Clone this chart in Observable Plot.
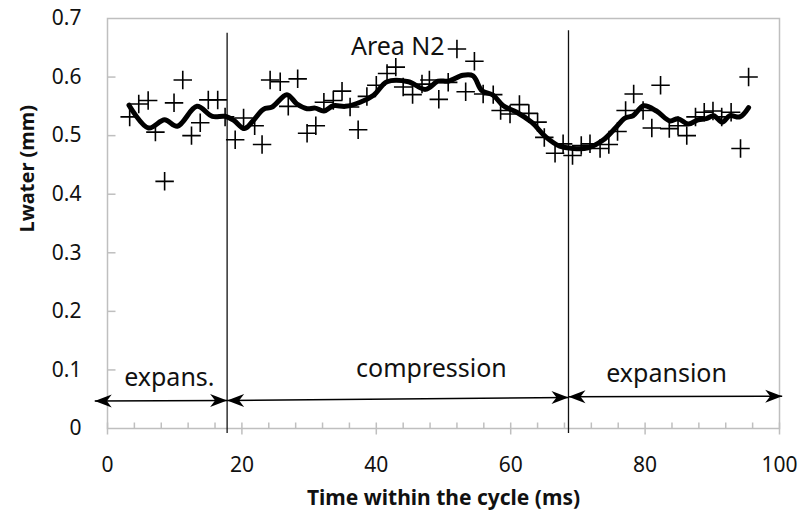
<!DOCTYPE html>
<html><head><meta charset="utf-8">
<script src="https://cdn.jsdelivr.net/npm/d3@7"></script>
<script src="https://cdn.jsdelivr.net/npm/@observablehq/plot@0.6"></script>
<style>body{margin:0;background:#fff}</style>
</head><body><div id="chart"></div>
<script>
// Measured points (time ms, Lwater mm)
const pointTime = [3.3,4.65,6.05,7.13,8.5,9.9,11.2,12.5,13.8,15.0,16.4,17.5,19.0,20.25,21.9,23.0,24.2,25.7,26.9,28.3,29.7,31.0,32.2,33.6,34.9,36.1,37.3,38.6,40.0,41.6,42.9,44.0,45.4,46.8,47.9,49.3,50.7,52.0,53.3,54.6,55.9,57.4,58.5,59.9,61.3,62.7,64.0,65.0,66.6,67.8,69.2,70.5,71.8,73.3,74.6,75.9,77.1,78.3,79.7,81.0,82.3,83.6,84.9,86.2,87.5,88.8,90.1,91.4,92.8,94.2,95.4];
const pointLwater = [0.532,0.554,0.560,0.506,0.422,0.556,0.595,0.500,0.522,0.561,0.561,0.532,0.493,0.530,0.517,0.485,0.595,0.592,0.550,0.597,0.504,0.517,0.557,0.560,0.576,0.549,0.510,0.567,0.586,0.606,0.617,0.583,0.570,0.588,0.595,0.562,0.591,0.648,0.575,0.627,0.571,0.570,0.543,0.537,0.553,0.538,0.523,0.497,0.470,0.486,0.466,0.483,0.486,0.478,0.485,0.507,0.543,0.571,0.543,0.513,0.586,0.512,0.517,0.500,0.532,0.540,0.542,0.532,0.540,0.478,0.600];
// Smoothed curve
const smoothTime = [3.2,6.1,8.5,10.4,13.3,15.6,17.5,18.8,20.4,21.7,23.2,24.5,26.7,28.2,29.7,30.9,32.2,33.6,35.4,37.6,39.6,41.6,44.8,47.3,49.2,50.7,52.9,54.4,55.7,57.4,58.9,60.9,63.1,65.3,67.3,69.3,71.5,73.7,75.5,77.0,78.2,79.8,81.7,83.7,84.9,86.4,87.9,89.1,90.2,91.5,92.6,94.1,95.4];
const smoothLwater = [0.552,0.513,0.527,0.516,0.550,0.533,0.533,0.526,0.512,0.526,0.545,0.549,0.570,0.554,0.546,0.547,0.542,0.551,0.550,0.557,0.569,0.592,0.592,0.579,0.593,0.593,0.603,0.602,0.577,0.569,0.551,0.540,0.523,0.497,0.482,0.478,0.479,0.492,0.512,0.530,0.534,0.551,0.542,0.525,0.529,0.520,0.527,0.529,0.534,0.523,0.534,0.532,0.548];
// Phase boundaries and labels
const phaseBounds = [17.8, 68.6];
const phaseTop = [0.675, 0.679];
const phaseNames = ["expans.", "compression", "expansion"];
const phaseLabelX = [9.2, 48.2, 83.2];
const phaseLabelY = [0.086, 0.101, 0.093];
const arrowX1 = [-1.9, 17.8, 68.6];
const arrowX2 = [17.8, 68.6, 100.4];
const arrowY1 = [0.047, 0.048, 0.054];
const arrowY2 = [0.048, 0.053, 0.055];
const areaLabel = ["Area N2"];
const areaX = [43.2];
const areaY = [0.652];
// Axis ticks
const xTicks = [0, 20, 40, 60, 80, 100];
const xMinorTicks = [4,8,12,16,24,28,32,36,44,48,52,56,64,68,72,76,84,88,92,96];
const yTicks = [0, 0.1, 0.2, 0.3, 0.4, 0.5, 0.6, 0.7];
const yInnerTicks = [0.1, 0.2, 0.3, 0.4, 0.5, 0.6];

const points = pointTime.map((t, i) => ({t, L: pointLwater[i]}));
const smooth = smoothTime.map((t, i) => ({t, L: smoothLwater[i]}));
const phases = phaseNames.map((name, i) => ({name, x: phaseLabelX[i], y: phaseLabelY[i],
  x1: arrowX1[i], x2: arrowX2[i], y1: arrowY1[i], y2: arrowY2[i]}));
const bounds = phaseBounds.map((x, i) => ({x, top: phaseTop[i]}));

const headRight = {draw(ctx) { ctx.moveTo(0,0); ctx.lineTo(-17,-6.5); ctx.lineTo(-12,0); ctx.lineTo(-17,6.5); ctx.closePath(); }};
const headLeft = {draw(ctx) { ctx.moveTo(0,0); ctx.lineTo(17,-6.5); ctx.lineTo(12,0); ctx.lineTo(17,6.5); ctx.closePath(); }};
const tickUp = {draw(ctx) { ctx.moveTo(0,0); ctx.lineTo(0,-6); }};
const tickCross = {draw(ctx) { ctx.moveTo(0,-6); ctx.lineTo(0,6); }};
const tickRight = {draw(ctx) { ctx.moveTo(0,0); ctx.lineTo(8,0); }};
const gray = "#bfbfbf";

const chart = Plot.plot({
  width: 801, height: 519,
  marginLeft: 107, marginRight: 22, marginTop: 18, marginBottom: 91,
  style: {fontFamily: "'Noto Sans', sans-serif", fontSize: "21px", color: "#111", background: "#fff"},
  x: {domain: [0, 100]},
  y: {domain: [0, 0.7]},
  marks: [
    Plot.frame({stroke: gray, strokeWidth: 1.5}),
    Plot.dot(xMinorTicks, {x: d => d, y: 0, symbol: tickUp, stroke: gray, fill: "none", strokeWidth: 1.5}),
    Plot.dot(xTicks, {x: d => d, y: 0, symbol: tickCross, stroke: gray, fill: "none", strokeWidth: 1.5}),
    Plot.dot(yInnerTicks, {x: 0, y: d => d, symbol: tickRight, stroke: gray, fill: "none", strokeWidth: 1.5}),
    Plot.axisX(xTicks, {tickSize: 0, tickPadding: 29, fontSize: 21, label: null}),
    Plot.axisY(yTicks, {tickSize: 0, tickPadding: 26, fontSize: 21, label: null, tickFormat: d => d === 0 ? "0" : d.toFixed(1)}),
    Plot.text(["Time within the cycle (ms)"], {frameAnchor: "bottom", dy: 70, lineAnchor: "middle", text: d => d, fontWeight: "bold", fontSize: 21}),
    Plot.text(["Lwater (mm)"], {frameAnchor: "left", dx: -80, dy: 9, rotate: -90, text: d => d, fontWeight: "bold", fontSize: 20}),
    Plot.ruleX(bounds, {x: "x", y1: "top", y2: 0, insetBottom: -5, stroke: "#111", strokeWidth: 1.3}),
    Plot.link(phases, {x1: "x1", x2: "x2", y1: "y1", y2: "y2", stroke: "#000", strokeWidth: 1.5}),
    Plot.dot(phases, {x: "x1", y: "y1", symbol: headLeft, fill: "#000", stroke: "none"}),
    Plot.dot(phases, {x: "x2", y: "y2", symbol: headRight, fill: "#000", stroke: "none"}),
    Plot.text(phases, {x: "x", y: "y", text: "name", fontSize: 25, lineAnchor: "middle"}),
    Plot.text(areaLabel, {x: () => areaX[0], y: () => areaY[0], text: d => d, fontSize: 25, lineAnchor: "middle"}),
    Plot.dot(points, {x: "t", y: "L", symbol: "plus", r: 6, stroke: "#000", strokeWidth: 1.6}),
    Plot.line(smooth, {x: "t", y: "L", stroke: "#000", strokeWidth: 5, curve: "catmull-rom", strokeLinejoin: "round", strokeLinecap: "round"})
  ]
});
document.getElementById("chart").appendChild(chart);
</script>
</body></html>
